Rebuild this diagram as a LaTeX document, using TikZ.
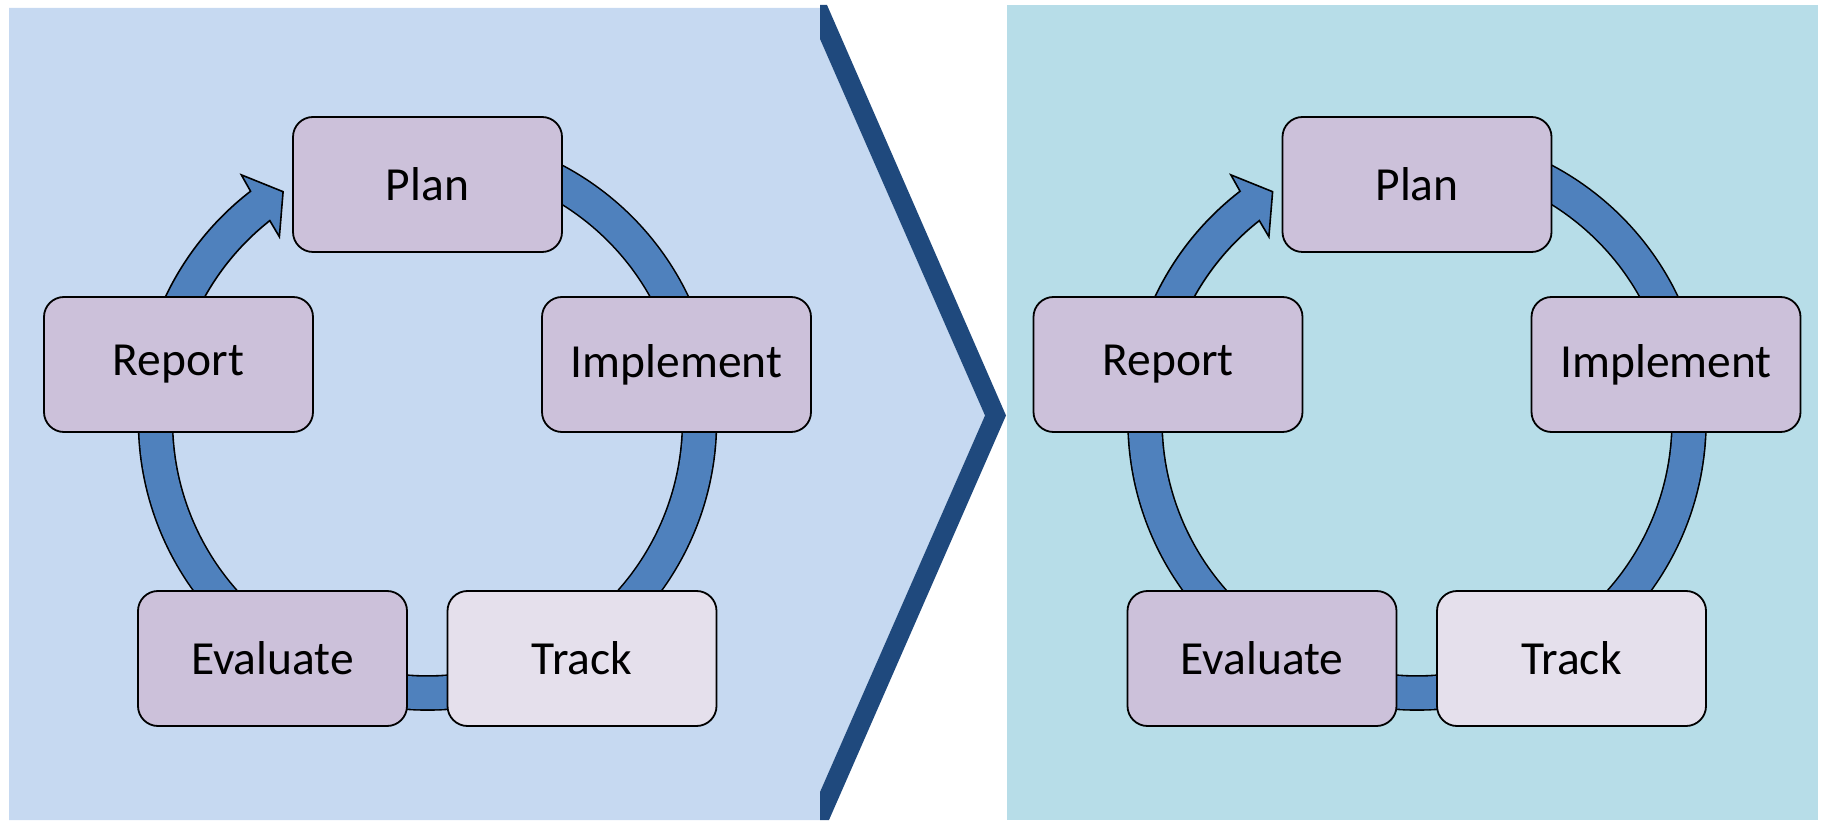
\documentclass[tikz,border=0pt]{standalone}
\usepackage{fontspec}
\setmainfont{Carlito}
\usepackage{tikz}
\definecolor{mpanel}{HTML}{C6D9F1}
\definecolor{mteal}{HTML}{B7DDE8}
\definecolor{mnavy}{HTML}{1F497D}
\definecolor{mring}{HTML}{4F81BD}
\definecolor{mbox}{HTML}{CCC1DA}
\definecolor{mboxlight}{HTML}{E5E0EC}
\tikzset{block/.style = {draw, line width = 1.8, fill = mbox, rounded corners = 20, minimum width = 269, minimum height = 135, font = \fontsize{47.5}{57}\selectfont}}
\tikzset{blocklight/.style = {block, fill = mboxlight}}
\tikzset{ring/.style = {line width = 1.6, double = mring, double distance = 32.5}}
\tikzset{ringarrow/.style = {draw, line width = 1.6, fill = mring, line join = miter}}

\begin{document}
\begin{tikzpicture}[x = 1pt, y = 1pt]
      \useasboundingbox (0, 0) rectangle (1822, 820);

      \fill [mpanel] (9, 0) -- (9, 812) -- (820, 812) -- (820, 781) -- (985, 404.5) -- (820, 28) -- (820, 0) -- cycle;
      \fill [mnavy] (820, 815) -- (827, 815) -- (1006, 404.5) -- (829, 0) -- (820, 0) -- (820, 28) -- (985, 404.5) -- (820, 781) -- cycle;
      \fill [mteal] (1007, 0) rectangle (1818, 815);

      \foreach \s/\dx in {a/427.5, b/1417} {
        \begin{scope}[shift = {(\dx, 399)}]
          \coordinate (c\s) at (0, 0);

          \draw [ring] (90:272) arc [start angle = 90, end angle = 12, radius = 272];
          \draw [ring] (12:272) arc [start angle = 12, end angle = -57, radius = 272];
          \draw [ring] (-57:272) arc [start angle = -57, end angle = -123, radius = 272];
          \draw [ring] (-123:272) arc [start angle = -123, end angle = -192, radius = 272];

          \draw [ringarrow] (168:290) arc [start angle = 168, end angle = 127.6, radius = 290]
            -- (127.1:308.6) -- (122.2:271) -- (128.8:236.4) -- (128.2:255)
            arc [start angle = 128.2, end angle = 168, radius = 255] -- cycle;

          \node [block] (plan\s) at (0, 236.5) {Plan};
          \node [block] (implement\s) at (249, 56.5) {Implement};
          \node [blocklight] (track\s) at (154.5, -237.5) {Track};
          \node [block] (evaluate\s) at (-155, -237.5) {Evaluate};
          \node [block] (report\s) at (-249, 56.5) {Report};
        \end{scope}
      }
    \end{tikzpicture}
\end{document}
